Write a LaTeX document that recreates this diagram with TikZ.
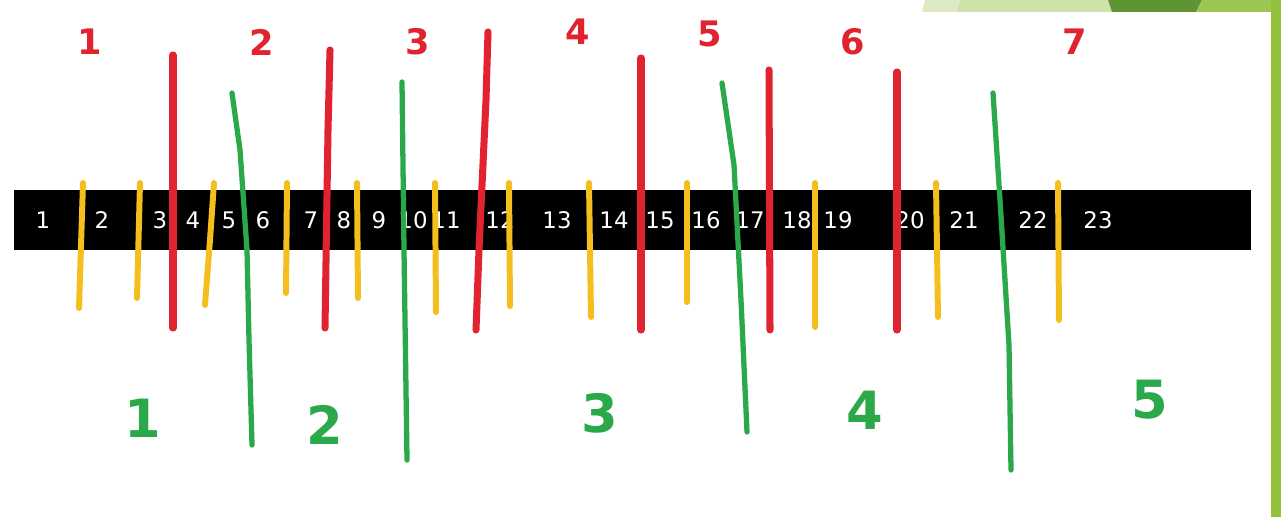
\documentclass[tikz,border=0pt]{standalone}
\usepackage{fontspec}
\setmainfont{DejaVu Sans}

\definecolor{cutred}{HTML}{E0232E}
\definecolor{cutyellow}{HTML}{F4BE1E}
\definecolor{cutgreen}{HTML}{2BA84A}
\definecolor{slidepale}{HTML}{DCEAC6}
\definecolor{slidelight}{HTML}{CDE3A8}
\definecolor{slidedark}{HTML}{5E9434}
\definecolor{slidemid}{HTML}{9CC653}
\definecolor{slidebar}{HTML}{92C13C}

\begin{document}
\begin{tikzpicture}[
    x=0.02cm, y=-0.02cm,
    redcut/.style={draw=cutred, line width=4pt, line cap=round},
    yellowcut/.style={draw=cutyellow, line width=3.4pt, line cap=round},
    greencut/.style={draw=cutgreen, line width=3pt, line cap=round},
    cellnum/.style={text=white, font=\fontsize{13}{15}\selectfont, inner sep=0pt},
    redlabel/.style={text=cutred, font=\fontsize{20}{24}\selectfont\bfseries, inner sep=0pt},
    greenlabel/.style={text=cutgreen, font=\fontsize{30}{34}\selectfont\bfseries, inner sep=0pt}
]
\useasboundingbox (0,0) rectangle (1281,517);

% slide decoration
\fill[slidepale] (925,0) -- (960,0) -- (957,12) -- (922,12) -- cycle;
\fill[slidelight] (960,0) -- (1108,0) -- (1112,12) -- (957,12) -- cycle;
\fill[slidedark] (1108,0) -- (1202,0) -- (1196,12) -- (1112,12) -- cycle;
\fill[slidemid] (1202,0) -- (1281,0) -- (1281,12) -- (1196,12) -- cycle;
\fill[slidebar] (1271,0) rectangle (1281,517);

% the bar
\fill[black] (14,190) rectangle (1251,250);
\foreach \n/\x in {1/43, 2/102, 3/160, 4/193, 5/229, 6/263, 7/311, 8/344,
                   9/379, 10/413, 11/446, 12/500, 13/557, 14/614, 15/660,
                   16/706, 17/750, 18/797, 19/838, 20/910, 21/964, 22/1033, 23/1098}
  \node[cellnum] (c\n) at (\x,220) {\n};

% yellow cuts
\draw[yellowcut] (83,183) -- (79,308);
\draw[yellowcut] (140,183) -- (137,298);
\draw[yellowcut] (214,183) -- (210,240) -- (205,305);
\draw[yellowcut] (287,183) -- (286,293);
\draw[yellowcut] (357,183) -- (358,298);
\draw[yellowcut] (435,183) -- (436,312);
\draw[yellowcut] (509,183) -- (510,306);
\draw[yellowcut] (589,183) -- (591,317);
\draw[yellowcut] (687,183) -- (687,302);
\draw[yellowcut] (815,183) -- (815,327);
\draw[yellowcut] (936,183) -- (938,317);
\draw[yellowcut] (1058,183) -- (1059,320);

% red cuts
\draw[redcut] (173,55) -- (173,328);
\draw[redcut] (330,50) -- (328,130) -- (325,328);
\draw[redcut] (488,32) -- (486,100) -- (479,250) -- (476,330);
\draw[redcut] (641,58) -- (641,330);
\draw[redcut] (769,70) -- (770,330);
\draw[redcut] (897,72) -- (897,330);

% green cuts
\draw[greencut] (232,93) -- (240,150) -- (247,250) -- (249,340) -- (252,445);
\draw[greencut] (402,82) -- (404,250) -- (407,460);
\draw[greencut] (722,83) -- (734,165) -- (741,300) -- (747,432);
\draw[greencut] (993,93) -- (1000,200) -- (1009,345) -- (1011,470);

% red numbers
\node[redlabel] (r1) at (90,42) {1};
\node[redlabel] (r2) at (262,42) {2};
\node[redlabel] (r3) at (418,42) {3};
\node[redlabel] (r4) at (578,32) {4};
\node[redlabel] (r5) at (710,34) {5};
\node[redlabel] (r6) at (853,42) {6};
\node[redlabel] (r7) at (1075,42) {7};

% green numbers
\node[greenlabel] (g1) at (143,418) {1};
\node[greenlabel] (g2) at (325,425) {2};
\node[greenlabel] (g3) at (600,413) {3};
\node[greenlabel] (g4) at (865,410) {4};
\node[greenlabel] (g5) at (1150,400) {5};

\end{tikzpicture}
\end{document}
